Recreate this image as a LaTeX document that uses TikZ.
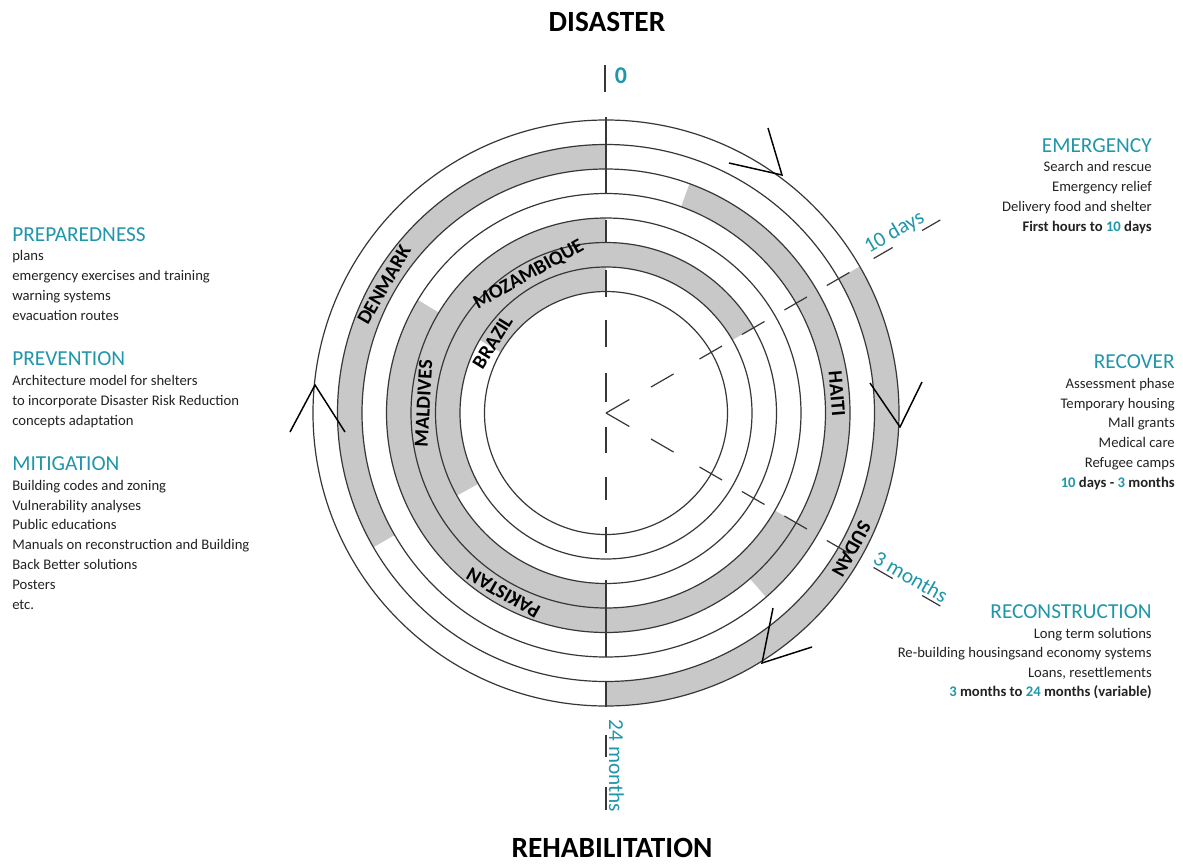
\documentclass[tikz,border=0pt]{standalone}
\usepackage{fontspec}
\setmainfont{Carlito}
\usetikzlibrary{calc}
\definecolor{tealc}{RGB}{32,150,170}
\definecolor{ringgray}{RGB}{200,200,200}
\definecolor{linec}{RGB}{55,55,55}
\definecolor{textc}{RGB}{35,35,35}
\newcommand{\ringfill}[4]{\fill[ringgray] (#3:#1) arc[start angle=#3,end angle=#4,radius=#1] -- (#4:#2) arc[start angle=#4,end angle=#3,radius=#2] -- cycle;}
\tikzset{
  ringline/.style={draw=linec,line width=0.9pt},
  radial/.style={draw=linec,line width=0.9pt},
  chevron/.style={draw=black,line width=1.1pt,line join=miter},
  country/.style={font=\fontsize{15}{15}\selectfont\bfseries,text=black,inner sep=0pt},
  body/.style={font=\fontsize{11}{12}\selectfont,text=textc,inner sep=0pt},
  head/.style={font=\fontsize{16}{16}\selectfont,text=tealc,inner sep=0pt},
  big/.style={font=\fontsize{22}{22}\selectfont\bfseries,text=black,inner sep=0pt},
  timelbl/.style={font=\fontsize{16}{16}\selectfont,text=tealc,inner sep=2pt},
}
\begin{document}
\begin{tikzpicture}[x=0.75pt,y=-0.75pt]
\useasboundingbox (0,0) rectangle (1183,864);
\fill[white] (0,0) rectangle (1183,864);
\begin{scope}[shift={(606,413)}]
  % gray sectors
  \ringfill{293}{268.5}{-30}{90}
  \ringfill{268.5}{244}{150}{270}
  \ringfill{244}{219.5}{-70}{49}
  \ringfill{219.5}{195}{30}{211}
  \ringfill{195}{170.5}{90}{270}
  \ringfill{170.5}{146}{151}{330}
  \ringfill{146}{121.5}{210}{270}
  % circles
  \foreach \r in {293,268.5,244,219.5,195,170.5,146,121.5}
    \draw[ringline] (0,0) circle[radius=\r];
  % vertical line
  \foreach \a/\b in {-296/-220,-193/-170,-143/-116,-93/-66,-40/-11,14/40,64/87,114/140,167/244,269/294}
    \draw[radial] (0,\a) -- (0,\b);
  % diagonal dashed radials
  \foreach \ang in {-30,30} {
    \foreach \a/\b in {0/27,52/78,108/134,157/183,206/232,255/281,309/331,365/386}
      \draw[radial] (\ang:\a) -- (\ang:\b);
  }
  % outer strokes at bottom
  \draw[radial] (0,322) -- (0,344);
  \draw[radial] (0,374) -- (0,397);
  % country labels
  \node[country,rotate=60] (denmark) at (210:256.25) {DENMARK};
  \node[country,rotate=29.2] (mozambique) at (240.8:158.25) {MOZAMBIQUE};
  \node[country,rotate=58] (brazil) at (212:133.75) {BRAZIL};
  \node[country,rotate=87] (maldives) at (183:182.75) {MALDIVES};
  \node[country,rotate=-85.3] (haiti) at (-4.7:231.75) {HAITI};
  \node[country,rotate=-119] (sudan) at (29:280.75) {SUDAN};
  \node[country,rotate=150.3] (pakistan) at (119.7:207.25) {PAKISTAN};
  % time labels
  \node[timelbl,rotate=30,anchor=south] (tdays) at (-30:340) {10 days};
  \node[timelbl,rotate=-30,anchor=south] (tmonths) at (30:346) {3 months};
  \node[timelbl,rotate=-90,anchor=south] (t24) at (90:353) {24 months};
\end{scope}
% chevrons on the outer circle
\draw[chevron] (729,163) -- (782,175) -- (768,128);
\draw[chevron] (870,383) -- (900,427) -- (922,382);
\draw[chevron] (773,608) -- (762,663) -- (812,647);
\draw[chevron] (290,432) -- (315,385) -- (345,432);
% titles
\node[big] (disaster) at (607,22) {DISASTER};
\node[big] (rehab) at (612,848) {REHABILITATION};
\draw[radial] (605,65) -- (605,92);
\node[font=\fontsize{18}{18}\selectfont\bfseries,text=tealc,inner sep=0pt] (zero) at (621,76) {0};
% left block
\node[head,anchor=base west] (prep) at (12,241) {PREPAREDNESS};
\node[body,anchor=base west] (l1) at (12,260) {plans};
\node[body,anchor=base west] (l2) at (12,280) {emergency exercises and training};
\node[body,anchor=base west] (l3) at (12,300) {warning systems};
\node[body,anchor=base west] (l4) at (12,320) {evacuation routes};
\node[head,anchor=base west] (prev) at (12,365) {PREVENTION};
\node[body,anchor=base west] (l5) at (12,385) {Architecture model for shelters};
\node[body,anchor=base west] (l6) at (12,405) {to incorporate Disaster Risk Reduction};
\node[body,anchor=base west] (l7) at (12,425) {concepts adaptation};
\node[head,anchor=base west] (miti) at (12,470) {MITIGATION};
\node[body,anchor=base west] (l8) at (12,490) {Building codes and zoning};
\node[body,anchor=base west] (l9) at (12,510) {Vulnerability analyses};
\node[body,anchor=base west] (l10) at (12,529) {Public educations};
\node[body,anchor=base west] (l11) at (12,549) {Manuals on reconstruction and Building};
\node[body,anchor=base west] (l12) at (12,569) {Back Better solutions};
\node[body,anchor=base west] (l13) at (12,589) {Posters};
\node[body,anchor=base west] (l14) at (12,609) {etc.};
% right blocks
\node[head,anchor=base east] (emer) at (1152,152) {EMERGENCY};
\node[body,anchor=base east] (r1) at (1152,171) {Search and rescue};
\node[body,anchor=base east] (r2) at (1152,191) {Emergency relief};
\node[body,anchor=base east] (r3) at (1152,211) {Delivery food and shelter};
\node[body,anchor=base east] (r4) at (1152,231) {\bfseries First hours to \textcolor{tealc}{10} days};
\node[head,anchor=base east] (recov) at (1175,368) {RECOVER};
\node[body,anchor=base east] (r5) at (1175,388) {Assessment phase};
\node[body,anchor=base east] (r6) at (1175,408) {Temporary housing};
\node[body,anchor=base east] (r7) at (1175,427) {Mall grants};
\node[body,anchor=base east] (r8) at (1175,447) {Medical care};
\node[body,anchor=base east] (r9) at (1175,467) {Refugee camps};
\node[body,anchor=base east] (r10) at (1175,487) {\bfseries\textcolor{tealc}{10} days - \textcolor{tealc}{3} months};
\node[head,anchor=base east] (recon) at (1152,618) {RECONSTRUCTION};
\node[body,anchor=base east] (r11) at (1152,638) {Long term solutions};
\node[body,anchor=base east] (r12) at (1152,657) {Re-building housingsand economy systems};
\node[body,anchor=base east] (r13) at (1152,677) {Loans, resettlements};
\node[body,anchor=base east] (r14) at (1152,696) {\bfseries\textcolor{tealc}{3} months to \textcolor{tealc}{24} months (variable)};
\end{tikzpicture}
\end{document}
